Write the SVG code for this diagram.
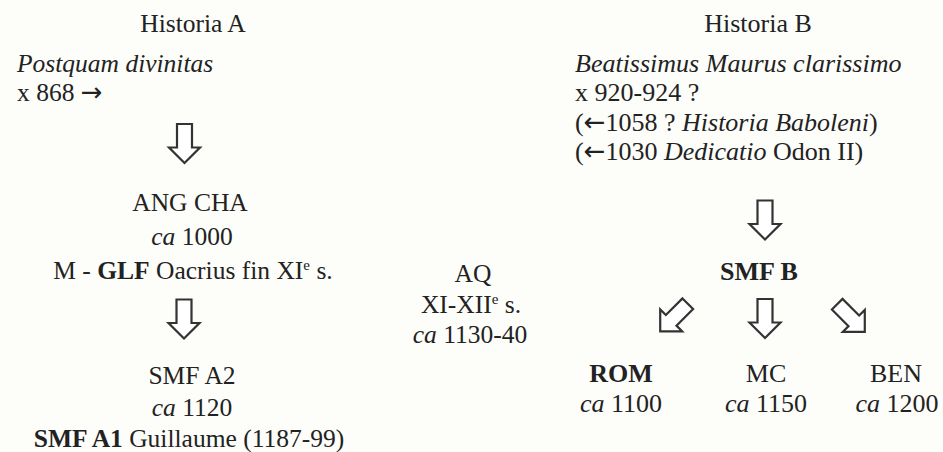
<svg xmlns="http://www.w3.org/2000/svg" width="943" height="452" viewBox="0 0 943 452">
<style>
text { font-family: "Liberation Serif", "Times New Roman", "DejaVu Serif", serif; font-size: 25.5px; fill: #222; }
.r text { font-size: 26px; }
.c { text-anchor: middle; }
.i { font-style: italic; }
.b { font-weight: bold; }
.sup { font-size: 15px; }
.ar { font-family: "DejaVu Sans", sans-serif; font-size: 26px; }
.arr { fill: #fff; stroke: #333; stroke-width: 2.2; stroke-linejoin: miter; }
</style>
<defs>
<path id="blk" d="M -7.5,-19.5 H 7.5 V 4 H 15.5 L 0,19.5 L -15.5,4 H -7.5 Z"/>
</defs>
<rect width="943" height="452" fill="#fdfdfa"/>

<g id="historiaA">
<text class="c" x="193" y="32">Historia A</text>
<text class="i" x="17" y="72">Postquam divinitas</text>
<text x="17" y="101">x 868 <tspan class="ar">→</tspan></text>
</g>

<g id="angcha">
<text class="c" x="190" y="211">ANG CHA</text>
<text class="c" x="192" y="245"><tspan class="i">ca</tspan> 1000</text>
<text class="c" x="193" y="279">M - <tspan class="b">GLF</tspan> Oacrius fin XI<tspan class="sup" dy="-9">e</tspan><tspan dy="9"> s.</tspan></text>
</g>

<g id="smfA">
<text class="c" x="192" y="384">SMF A2</text>
<text class="c" x="192" y="416"><tspan class="i">ca</tspan> 1120</text>
<text class="c" x="189" y="447"><tspan class="b">SMF A1</tspan> Guillaume (1187-99)</text>
</g>

<g id="aq">
<text class="c" x="473" y="282">AQ</text>
<text class="c" x="471" y="313">XI-XII<tspan class="sup" dy="-9">e</tspan><tspan dy="9"> s.</tspan></text>
<text class="c" x="470" y="343"><tspan class="i">ca</tspan> 1130-40</text>
</g>

<g class="r">
<g id="historiaB">
<text class="c" x="758" y="32">Historia B</text>
<text class="i" x="575" y="72">Beatissimus Maurus clarissimo</text>
<text x="575" y="101">x 920-924 ?</text>
<text x="575" y="131">(<tspan class="ar">←</tspan>1058 ? <tspan class="i">Historia Baboleni</tspan>)</text>
<text x="575" y="160">(<tspan class="ar">←</tspan>1030 <tspan class="i">Dedicatio</tspan> Odon II)</text>
</g>

<g id="smfB">
<text class="c b" x="759" y="280">SMF B</text>
</g>

<g id="rom">
<text class="c b" x="621" y="382">ROM</text>
<text class="c" x="621" y="412"><tspan class="i">ca</tspan> 1100</text>
</g>
<g id="mc">
<text class="c" x="766" y="382">MC</text>
<text class="c" x="766" y="412"><tspan class="i">ca</tspan> 1150</text>
</g>
<g id="ben">
<text class="c" x="896" y="382">BEN</text>
<text class="c" x="897" y="412"><tspan class="i">ca</tspan> 1200</text>
</g>
</g>

<g id="connectors">
<use href="#blk" class="arr" transform="translate(184.5,143.5)"/>
<use href="#blk" class="arr" transform="translate(184,319)"/>
<use href="#blk" class="arr" transform="translate(765,220)"/>
<use href="#blk" class="arr" transform="translate(765,318.5)"/>
<use href="#blk" class="arr" transform="translate(674,317.5) rotate(45)"/>
<use href="#blk" class="arr" transform="translate(851,318) rotate(-45)"/>
</g>
</svg>
